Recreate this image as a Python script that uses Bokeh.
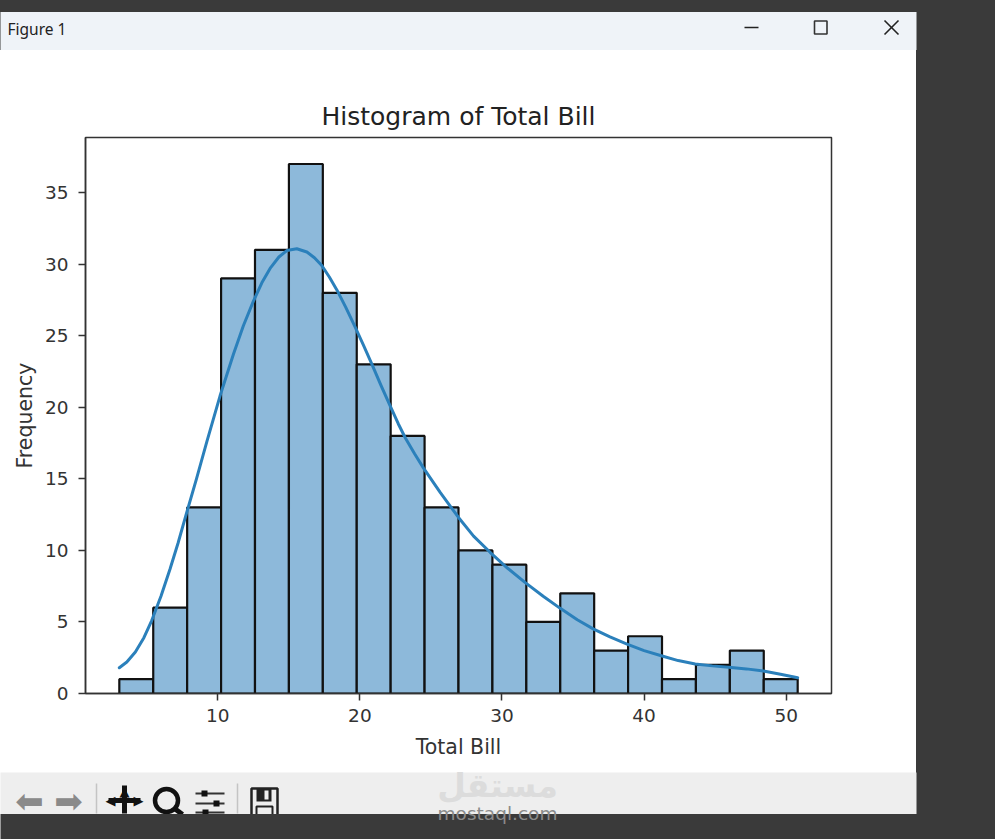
from bokeh.plotting import figure
from bokeh.layouts import column, row
from bokeh.models import Range1d, FixedTicker
from bokeh.core.properties import value
from bokeh.embed import file_html
from bokeh.resources import INLINE

# ---- data ----
title_text = "Histogram of Total Bill"
x_label = "Total Bill"
y_label = "Frequency"
bin_low = 3.07
bin_high = 50.81
counts = [1, 6, 13, 29, 31, 37, 28, 23, 18, 13, 10, 9, 5, 7, 3, 4, 1, 2, 3, 1]
kde_x = [3.07, 3.6, 4.2, 4.8, 5.35, 6.0, 6.64, 7.2, 7.8, 8.5, 9.23, 10.16, 11.1, 11.8, 12.5,
         13.1, 13.68, 14.3, 14.86, 15.56, 16.27, 16.8, 17.32, 17.85, 18.38, 19.0, 19.67,
         20.25, 20.85, 21.5, 22.13, 22.7, 23.2, 23.85, 24.48, 25.65, 26.94, 28.0, 29.18,
         30.4, 31.64, 32.9, 34.1, 35.3, 36.45, 37.6, 38.8, 40.0, 41.27, 42.4, 43.6, 44.8,
         45.96, 47.2, 48.4, 49.6, 50.81]
kde_y = [1.8, 2.2, 2.9, 3.9, 5.1, 6.8, 8.7, 10.5, 12.6, 15.0, 17.6, 20.8, 23.7, 25.7, 27.4,
         28.7, 29.7, 30.5, 30.95, 31.08, 30.85, 30.45, 29.9, 29.1, 28.2, 27.0, 25.6,
         24.35, 23.0, 21.5, 20.1, 18.85, 17.85, 16.75, 15.75, 14.05, 12.3, 11.0, 9.85,
         8.75, 7.75, 6.8, 5.95, 5.15, 4.5, 3.95, 3.45, 3.0, 2.62, 2.3, 2.06, 1.93,
         1.84, 1.72, 1.57, 1.35, 1.1]
x_ticks = [10, 20, 30, 40, 50]
y_ticks = [0, 5, 10, 15, 20, 25, 30, 35]

DARK = "#3a3a3a"
BAR_COLOR = "#eff3f8"
TOOL_COLOR = "#eeeeee"


def chrome_figure(w, h, top, background):
    """A strip of window frame whose data coordinates are window pixels."""
    f = figure(width=w, height=h, output_backend="svg", toolbar_location=None,
               x_axis_type=None, y_axis_type=None,
               x_range=Range1d(0, w), y_range=Range1d(top + h, top),
               min_border=0, min_border_left=0, min_border_right=0,
               min_border_top=0, min_border_bottom=0)
    f.outline_line_color = None
    f.grid.visible = False
    f.background_fill_alpha = 0
    f.border_fill_alpha = 0
    f.styles = {"background": background}
    return f


def box(f, l, t, r, b, color, line=None, lw=2):
    f.quad(left=[l], right=[r], top=[t], bottom=[b], fill_color=color, line_color=line, line_width=lw)


def seg(f, x0, y0, x1, y1, color="#222222", lw=1.5):
    f.segment(x0=[x0], y0=[y0], x1=[x1], y1=[y1], line_color=color, line_width=lw)


def txt(f, x, y, text, size, color="#222222", font="DejaVu Sans", style="normal", align="center"):
    f.text(x=[x], y=[y], text=[text], text_font=value(font), text_font_size=value(size),
           text_color=color, text_font_style=style, text_align=align, text_baseline="middle")


# ---- title bar of the window ----
top_bar = chrome_figure(995, 50, 0, DARK)
box(top_bar, -3, 11.5, 916, 53, BAR_COLOR)
txt(top_bar, 7, 28, "Figure 1", "15.5px", font="Noto Sans", align="left")
seg(top_bar, 744, 27, 758, 27, lw=1.6)
box(top_bar, 814, 20.5, 826.5, 33.5, BAR_COLOR, line="#333333", lw=1.6)
seg(top_bar, 884, 20, 898, 34, lw=1.6)
seg(top_bar, 898, 20, 884, 34, lw=1.6)

# ---- the chart ----
p = figure(width=916, height=712, output_backend="svg", toolbar_location=None,
           x_range=Range1d(0.69, 53.19), y_range=Range1d(0, 38.85),
           frame_width=746, frame_height=556,
           min_border_left=85, min_border_right=85, min_border_top=87, min_border_bottom=69,
           title=title_text, x_axis_label=x_label, y_axis_label=y_label)

width = (bin_high - bin_low) / len(counts)
lefts = [bin_low + i * width for i in range(len(counts))]
rights = [bin_low + (i + 1) * width for i in range(len(counts))]
p.quad(left=lefts, right=rights, bottom=0, top=counts,
       fill_color="#8db9da", line_color="#111111", line_width=2.2)
p.line(kde_x, kde_y, line_color="#2b80bb", line_width=3, line_join="round", line_cap="round")

p.grid.visible = False
p.outline_line_color = "#333333"
p.outline_line_width = 1.5
p.background_fill_color = "white"
p.border_fill_color = "white"
p.title.align = "center"
p.title.text_font = "DejaVu Sans"
p.title.text_font_size = "25px"
p.title.text_font_style = "normal"
p.title.text_color = "#222222"
p.title.standoff = 13

for ax, ticks in ((p.xaxis[0], x_ticks), (p.yaxis[0], y_ticks)):
    ax.ticker = FixedTicker(ticks=ticks)
    ax.minor_tick_line_color = None
    ax.major_tick_in = 0
    ax.major_tick_out = 7
    ax.major_tick_line_color = "#333333"
    ax.major_tick_line_width = 1.5
    ax.axis_line_color = "#333333"
    ax.axis_line_width = 1.5
    ax.major_label_text_font = "DejaVu Sans"
    ax.major_label_text_font_size = "18.5px"
    ax.major_label_text_color = "#333333"
    ax.axis_label_text_font = "DejaVu Sans"
    ax.axis_label_text_font_size = "20.5px"
    ax.axis_label_text_font_style = "normal"
    ax.axis_label_text_color = "#333333"
p.xaxis[0].major_label_standoff = 8
p.xaxis[0].axis_label_standoff = 10
p.yaxis[0].major_label_standoff = 10
p.yaxis[0].major_label_orientation = "horizontal"
p.yaxis[0].axis_label_standoff = 5

# ---- dark desktop to the right of the window ----
side = chrome_figure(79, 712, 50, DARK)

# ---- toolbar of the window, and the watermark lying over it ----
bottom = chrome_figure(995, 77, 762, f"linear-gradient(to right, white 916px, {DARK} 916px)")
box(bottom, -3, 772, 916, 813.5, TOOL_COLOR)
txt(bottom, 29, 800, "⬅", "34px", color="#8a8a8a")
txt(bottom, 68, 800, "➡", "34px", color="#8a8a8a")
seg(bottom, 96, 783, 96, 813, color="#c4c4c4", lw=1.5)
seg(bottom, 108, 800, 140, 800, color="#111111", lw=5)
seg(bottom, 124, 785, 124, 813, color="#111111", lw=5)
txt(bottom, 124, 791, "▲", "13px", color="#111111")
txt(bottom, 110, 800, "◀", "13px", color="#111111")
txt(bottom, 138, 800, "▶", "13px", color="#111111")
bottom.circle(x=[166], y=[800], radius=11.5, fill_color=None, line_color="#111111", line_width=4.5)
seg(bottom, 174, 808, 182, 814, color="#111111", lw=5)
for y_line, x_knob in ((793, 204), (803, 216), (812, 205)):
    seg(bottom, 195, y_line, 224, y_line, color="#333333", lw=2)
    box(bottom, x_knob - 3, y_line - 3, x_knob + 3, y_line + 3, "#111111", lw=1)
seg(bottom, 237, 783, 237, 813, color="#c4c4c4", lw=1.5)
box(bottom, 251, 788, 277, 820, TOOL_COLOR, line="#222222", lw=2.5)
box(bottom, 256, 788, 271, 801, "#222222", lw=1)
box(bottom, 264, 790, 268, 799, TOOL_COLOR, lw=1)
box(bottom, 256, 806, 272, 820, TOOL_COLOR, line="#222222", lw=2)
box(bottom, -3, 813.5, 998, 842, DARK)
txt(bottom, 497, 785, "مستقل", "33px", color="#dcdcdc", style="bold")
txt(bottom, 497, 813, "mostaql.com", "18.5px", color="#8a8a8a")

page = column(top_bar, row(p, side, spacing=0), bottom, spacing=0)
open("out.html", "w").write(file_html(page, INLINE))
